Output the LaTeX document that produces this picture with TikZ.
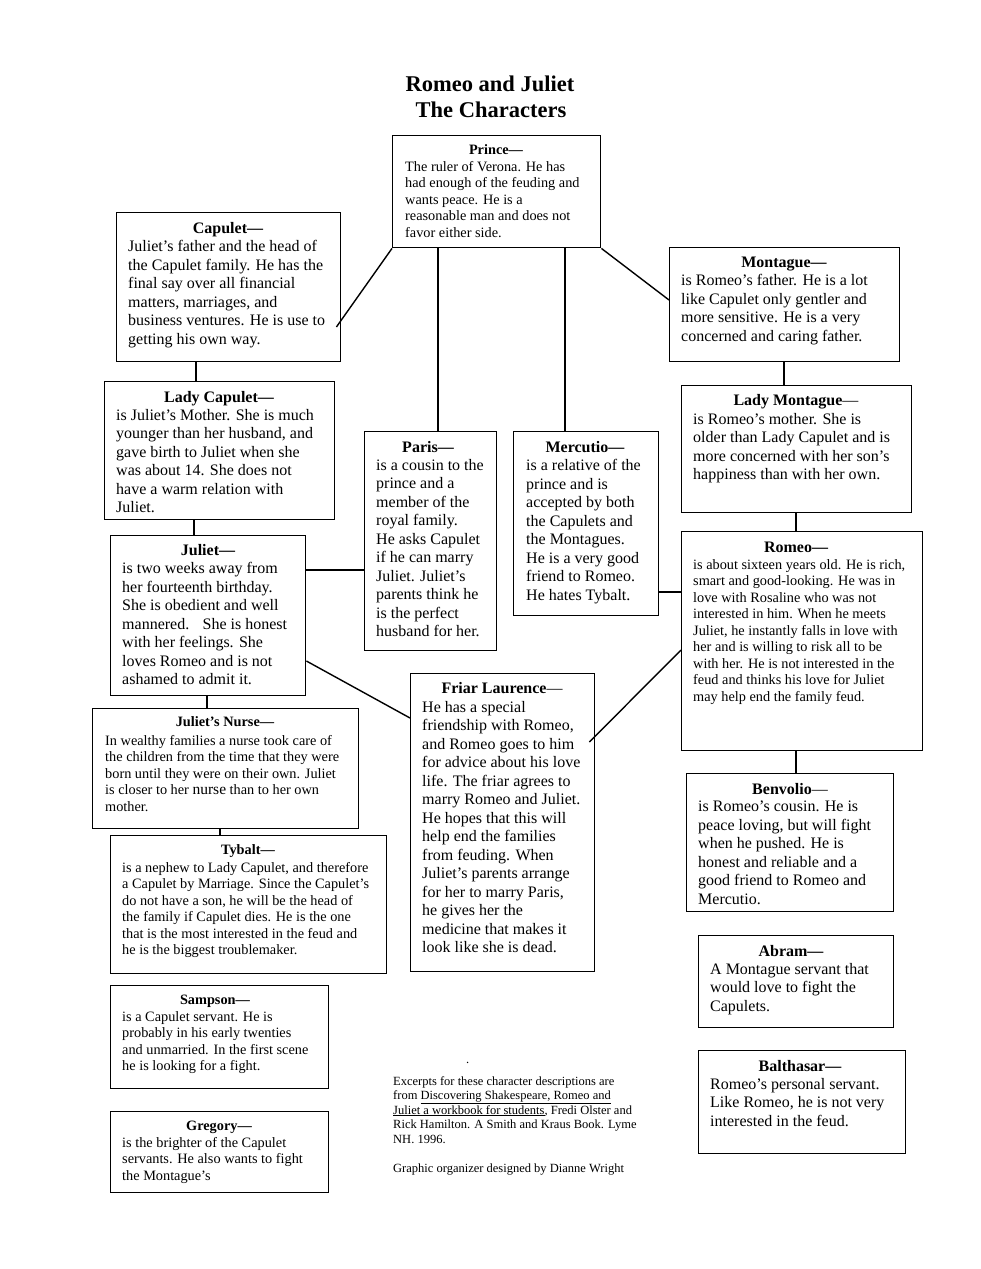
\documentclass[tikz,border=0pt]{standalone}
\usepackage{fontspec}
\setmainfont{Liberation Serif}
\usetikzlibrary{calc}
\begin{document}
\begin{tikzpicture}[x=1pt,y=-1pt,
  box/.style={draw,line width=1.4pt,rectangle,inner sep=0,anchor=north west},
  link/.style={line width=1.4pt},
  ttl/.style={anchor=base,inner sep=0,font=\fontsize{16}{18.5}\selectfont\bfseries},
  ttls/.style={anchor=base,inner sep=0,font=\fontsize{14.3}{16.5}\selectfont\bfseries},
  body/.style={anchor=north west,inner sep=0,yshift=-1.5pt,align=left,font=\fontsize{16}{18.5}\selectfont},
  bodys/.style={anchor=north west,inner sep=0,yshift=-1.5pt,align=left,font=\fontsize{14.3}{16.5}\selectfont},
  foot/.style={anchor=north west,inner sep=0,yshift=-1pt,align=left,font=\fontsize{12.5}{14.5}\selectfont},
  head/.style={anchor=base,inner sep=0,font=\fontsize{22.5}{26}\selectfont\bfseries}]
\useasboundingbox (0,0) rectangle (980,1269);
\fill[white] (0,0) rectangle (980,1269);

% title
\node[head] (h1) at (490,91) {Romeo and Juliet};
\node[head] (h2) at (491,117) {The Characters};

% boxes
\node[box,minimum width=208,minimum height=112] (prince) at (392,135) {};
\node[box,minimum width=224,minimum height=149] (capulet) at (116,212) {};
\node[box,minimum width=230,minimum height=114] (montague) at (669,247) {};
\node[box,minimum width=230,minimum height=138] (ladycap) at (104,381) {};
\node[box,minimum width=230,minimum height=127] (ladymon) at (681,385) {};
\node[box,minimum width=132,minimum height=219] (paris) at (364,431) {};
\node[box,minimum width=145,minimum height=184] (mercutio) at (513,431) {};
\node[box,minimum width=195,minimum height=160] (juliet) at (110,535) {};
\node[box,minimum width=241,minimum height=219] (romeo) at (681,531) {};
\node[box,minimum width=184,minimum height=298] (friar) at (410,673) {};
\node[box,minimum width=266,minimum height=120] (nurse) at (92,708) {};
\node[box,minimum width=276,minimum height=138] (tybalt) at (110,835) {};
\node[box,minimum width=207,minimum height=138] (benvolio) at (686,773) {};
\node[box,minimum width=195,minimum height=92] (abram) at (698,935) {};
\node[box,minimum width=207,minimum height=103] (balthasar) at (698,1050) {};
\node[box,minimum width=218,minimum height=103] (sampson) at (110,985) {};
\node[box,minimum width=218,minimum height=81] (gregory) at (110,1111) {};

% texts
\node[ttls] (tprince) at (496,154.5) {Prince---};
\node[bodys] (bprince) at (405,159.5) {The ruler of Verona.  He has\\had enough of the feuding and\\wants peace.  He is a\\reasonable man and does not\\favor either side.};

\node[ttl] (tcapulet) at (228,233) {Capulet---};
\node[body] (bcapulet) at (128,238.6) {Juliet's father and the head of\\the Capulet family.  He has the\\final say over all financial\\matters, marriages, and\\business ventures.  He is use to\\getting his own way.};

\node[ttl] (tladycap) at (219,402) {Lady Capulet---};
\node[body] (bladycap) at (116,407.6) {is Juliet's Mother.  She is much\\younger than her husband, and\\gave birth to Juliet when she\\was about 14. She does not\\have a warm relation with\\Juliet.};

\node[ttl] (tmontague) at (784,267) {Montague---};
\node[body] (bmontague) at (681,272.6) {is Romeo's father.  He is a lot\\like Capulet only gentler and\\more sensitive.  He is a very\\concerned and caring father.};

\node[ttl] (tladymon) at (796,405) {Lady Montague{\mdseries---}};
\node[body] (bladymon) at (693,411.6) {is Romeo's mother.  She is\\older than Lady Capulet and is\\more concerned with her son's\\happiness than with her own.};

\node[ttl] (tparis) at (428,452) {Paris---};
\node[body] (bparis) at (376,457.6) {is a cousin to the\\prince and a\\member of the\\royal family.\\He asks Capulet\\if he can marry\\Juliet. Juliet's\\parents think he\\is the perfect\\husband for her.};

\node[ttl] (tmercutio) at (585,452) {Mercutio---};
\node[body] (bmercutio) at (526,457.6) {is a relative of the\\prince and is\\accepted by both\\the Capulets and\\the Montagues.\\He is a very good\\friend to Romeo.\\He hates Tybalt.};

\node[ttl] (tjuliet) at (208,555) {Juliet---};
\node[body] (bjuliet) at (122,560.6) {is two weeks away from\\her fourteenth birthday.\\She is obedient and well\\mannered. \ \ She is honest\\with her feelings.  She\\loves Romeo and is not\\ashamed to admit it.};

\node[ttl] (tromeo) at (796,552) {Romeo---};
\node[bodys] (bromeo) at (693,557.4) {is about sixteen years old.  He is rich,\\smart and good-looking.  He was in\\love with Rosaline who was not\\interested in him.  When he meets\\Juliet, he instantly falls in love with\\her and is willing to risk all to be\\with her.  He is not interested in the\\feud and thinks his love for Juliet\\may help end the family feud.};

\node[ttl] (tfriar) at (502,693) {Friar Laurence{\mdseries---}};
\node[body] (bfriar) at (422,699.6) {He has a special\\friendship with Romeo,\\and Romeo goes to him\\for advice about his love\\life.  The friar agrees to\\marry Romeo and Juliet.\\He hopes that this will\\help end the families\\from feuding.  When\\Juliet's parents arrange\\for her to marry Paris,\\he gives her the\\medicine that makes it\\look like she is dead.};

\node[ttls] (tnurse) at (225,726.5) {Juliet's Nurse---};
\node[bodys] (bnurse) at (105,733.4) {In wealthy families a nurse took care of\\the children from the time that they were\\born until they were on their own. Juliet\\is closer to her {\fontsize{15.5}{16.5}\selectfont nurse} than to her own\\mother.};

\node[ttls] (ttybalt) at (248,854.5) {Tybalt---};
\node[bodys] (btybalt) at (122,860.4) {is a nephew to Lady Capulet, and therefore\\a Capulet by Marriage.  Since the Capulet's\\do not have a son, he will be the head of\\the family if Capulet dies.  He is the one\\that is the most interested in the feud and\\he is the biggest troublemaker.};

\node[ttl] (tbenvolio) at (790,794) {Benvolio{\mdseries---}};
\node[body] (bbenvolio) at (698,799.6) {is Romeo's cousin.  He is\\peace loving, but will fight\\when he pushed.  He is\\honest and reliable and a\\good friend to Romeo and\\Mercutio.};

\node[ttl] (tabram) at (791,956) {Abram---};
\node[body] (babram) at (710,961.6) {A Montague servant that\\would love to fight the\\Capulets.};

\node[ttl] (tbalthasar) at (800,1071) {Balthasar---};
\node[body] (bbalthasar) at (710,1076.6) {Romeo's personal servant.\\Like Romeo, he is not very\\interested in the feud.};

\node[ttls] (tsampson) at (215,1004.5) {Sampson---};
\node[bodys] (bsampson) at (122,1009.4) {is a Capulet servant.  He is\\probably in his early twenties\\and unmarried. In the first scene\\he is looking for a fight.};

\node[ttls] (tgregory) at (219,1130.5) {Gregory---};
\node[bodys] (bgregory) at (122,1135.4) {is the brighter of the Capulet\\servants.  He also wants to fight\\the Montague's};

% footnote
\node[foot] (dot) at (466,1061) {.};
\node[foot] (note) at (393,1075) {Excerpts for these character descriptions are\\from \underline{Discovering Shakespeare, Romeo and}\\\underline{Juliet a workbook for students}, Fredi Olster and\\Rick Hamilton. A Smith and Kraus Book. Lyme\\NH. 1996.\\[14.5pt]Graphic organizer designed by Dianne Wright};

% connector end points
\coordinate (capR) at ($(capulet.north east)+(-5,115)$);
\coordinate (monL) at ($(montague.north west)+(0,53)$);
\coordinate (parT) at ($(paris.north west)+(74,0)$);
\coordinate (merT) at ($(mercutio.north west)+(52,0)$);
\coordinate (capB) at ($(capulet.south west)+(80,0)$);
\coordinate (monB) at ($(montague.south west)+(115,0)$);
\coordinate (lcB) at ($(ladycap.south west)+(90,0)$);
\coordinate (lmB) at ($(ladymon.south west)+(115,0)$);
\coordinate (julR1) at ($(juliet.north east)+(0,35)$);
\coordinate (merR) at ($(mercutio.north east)+(0,161)$);
\coordinate (julR2) at ($(juliet.north east)+(0,126)$);
\coordinate (friL) at ($(friar.north west)+(0,45)$);
\coordinate (friR) at ($(friar.north east)+(-6,69)$);
\coordinate (romL) at ($(romeo.north west)+(0,119)$);
\coordinate (julB) at ($(juliet.south west)+(97,0)$);
\coordinate (nurB) at ($(nurse.south west)+(128,0)$);
\coordinate (romB) at ($(romeo.south west)+(115,0)$);

% connectors
\draw[link] (prince.south west) -- (capR);
\draw[link] (prince.south east) -- (monL);
\draw[link] (parT) -- (parT |- prince.south);
\draw[link] (merT) -- (merT |- prince.south);
\draw[link] (capB) -- (capB |- ladycap.north);
\draw[link] (monB) -- (monB |- ladymon.north);
\draw[link] (lcB) -- (lcB |- juliet.north);
\draw[link] (lmB) -- (lmB |- romeo.north);
\draw[link] (julR1) -- (julR1 -| paris.west);
\draw[link] (merR) -- (merR -| romeo.west);
\draw[link] (julR2) -- (friL);
\draw[link] (friR) -- (romL);
\draw[link] (julB) -- (julB |- nurse.north);
\draw[link] (nurB) -- (nurB |- tybalt.north);
\draw[link] (romB) -- (romB |- benvolio.north);
\end{tikzpicture}
\end{document}
